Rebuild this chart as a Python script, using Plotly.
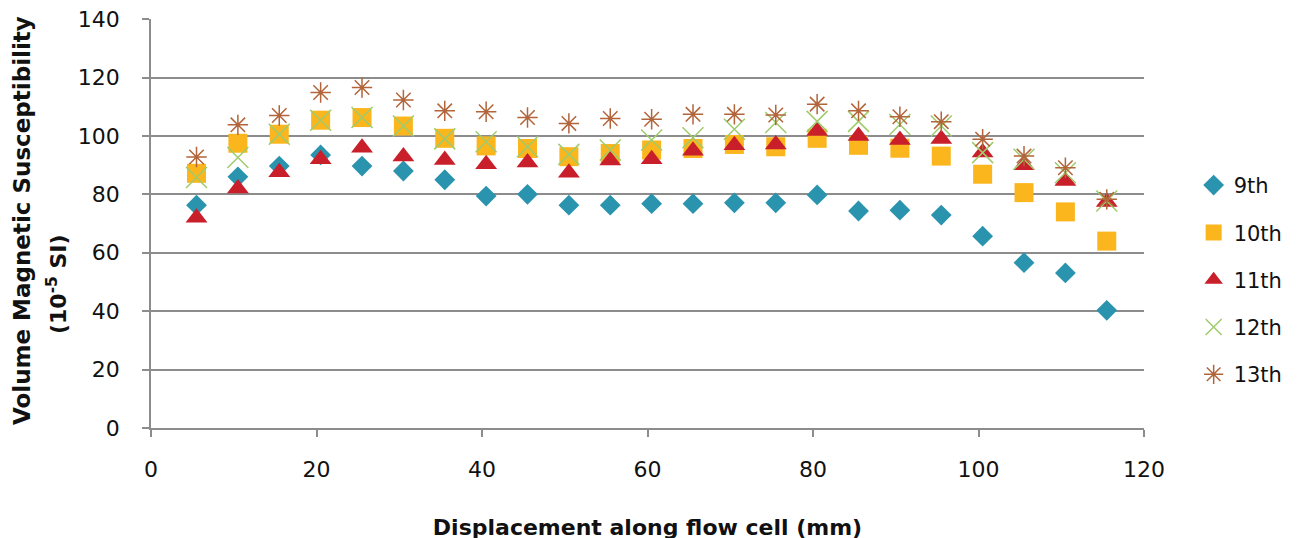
import plotly.graph_objects as go

displacement = [5.5, 10.5, 15.5, 20.5, 25.5, 30.5, 35.5, 40.5, 45.5, 50.5, 55.5, 60.5,
                65.5, 70.5, 75.5, 80.5, 85.5, 90.5, 95.5, 100.5, 105.5, 110.5, 115.5]

s9 = [76.3, 86.0, 89.7, 93.5, 89.7, 88.0, 85.0, 79.4, 80.0, 76.3, 76.3, 76.8,
      76.8, 77.1, 77.1, 79.8, 74.3, 74.6, 72.9, 65.7, 56.6, 53.1, 40.3]
s10 = [87.2, 97.5, 100.6, 105.4, 106.3, 103.4, 99.2, 96.6, 95.7, 92.9, 94.0, 95.2,
       95.7, 97.1, 96.3, 99.2, 96.8, 95.8, 93.1, 86.9, 80.6, 74.0, 64.0]
s11 = [72.0, 82.0, 87.6, 92.0, 96.0, 93.0, 91.8, 90.3, 90.9, 87.4, 91.6, 92.0,
       94.9, 96.8, 97.1, 101.7, 100.0, 98.6, 99.0, 94.3, 90.0, 84.6, 77.4]
s12 = [85.8, 92.6, 100.6, 105.4, 106.3, 103.4, 99.0, 98.0, 96.3, 93.7, 95.2, 98.6,
       99.4, 102.3, 104.6, 105.0, 105.0, 103.9, 103.4, 94.3, 92.0, 87.4, 77.7]
s13 = [92.8, 103.8, 107.0, 114.9, 116.6, 112.3, 108.6, 108.3, 106.3, 104.3, 106.0, 105.7,
       107.4, 107.4, 107.2, 110.9, 108.6, 106.6, 104.9, 98.9, 93.1, 89.1, 78.3]

series_names = ["9th", "10th", "11th", "12th", "13th"]
series_values = [s9, s10, s11, s12, s13]

x_ticks = [0, 20, 40, 60, 80, 100, 120]
y_ticks = [0, 20, 40, 60, 80, 100, 120, 140]

x_title = "<b>Displacement along flow cell (mm)</b>"
y_title_line1 = "<b>Volume Magnetic Susceptibility</b>"
y_title_line2 = "<b>(10<sup>-5</sup> SI)</b>"

styles = [
    dict(symbol="diamond", size=16, color="#2A93AE", line=dict(width=0)),
    dict(symbol="square", size=19, color="#FBB51D", line=dict(width=0)),
    dict(symbol="triangle-up", size=19, color="#C81F2B", line=dict(width=0)),
    dict(symbol="x-thin", size=21, color="#9FCB6C", line=dict(width=1.5, color="#9FCB6C")),
    dict(symbol="asterisk", size=17, color="#B2643A", line=dict(width=1.5, color="#B2643A")),
]

fig = go.Figure()
for name, vals, st in zip(series_names, series_values, styles):
    fig.add_trace(go.Scatter(
        x=displacement, y=vals, mode="markers", name=name,
        legendgroup=name, marker=st,
    ))

font_family = "'DejaVu Sans', sans-serif"
fig.update_layout(
    width=1299, height=538,
    margin=dict(l=143, r=163, t=11, b=118),
    plot_bgcolor="white", paper_bgcolor="white",
    font=dict(family=font_family, size=22, color="#111111"),
    showlegend=True,
    legend=dict(x=1.05, y=0.362, xanchor="left", yanchor="middle",
                tracegroupgap=17, font=dict(size=21)),
    xaxis=dict(
        range=[0, 120], tickvals=x_ticks,
        showgrid=False, zeroline=False, showline=True, linecolor="#8c8c8c", linewidth=1.5,
        ticks="outside", ticklen=7, tickcolor="#8c8c8c", tickwidth=1.5,
        automargin=False, ticklabeloverflow="allow",
        title=dict(text=x_title, standoff=38, font=dict(size=22)),
        ticklabelstandoff=14,
    ),
    yaxis=dict(
        range=[0, 140.05], tickvals=y_ticks,
        showgrid=True, gridcolor="#8c8c8c", gridwidth=1.5,
        zeroline=False, showline=True, linecolor="#8c8c8c", linewidth=1.5,
        ticks="outside", ticklen=7, tickcolor="#8c8c8c", tickwidth=1.5,
        automargin=False, ticklabeloverflow="allow",
        ticklabelstandoff=18,
    ),
    annotations=[
        dict(text=y_title_line1, textangle=-90, xref="paper", yref="paper",
             x=-0.1299, y=0.506, xanchor="center", yanchor="middle",
             showarrow=False, font=dict(size=23, color="#111111")),
        dict(text=y_title_line2, textangle=-90, xref="paper", yref="paper",
             x=-0.0947, y=0.352, xanchor="center", yanchor="middle",
             showarrow=False, font=dict(size=22, color="#111111")),
    ],
)

fig.write_html("out.html")
